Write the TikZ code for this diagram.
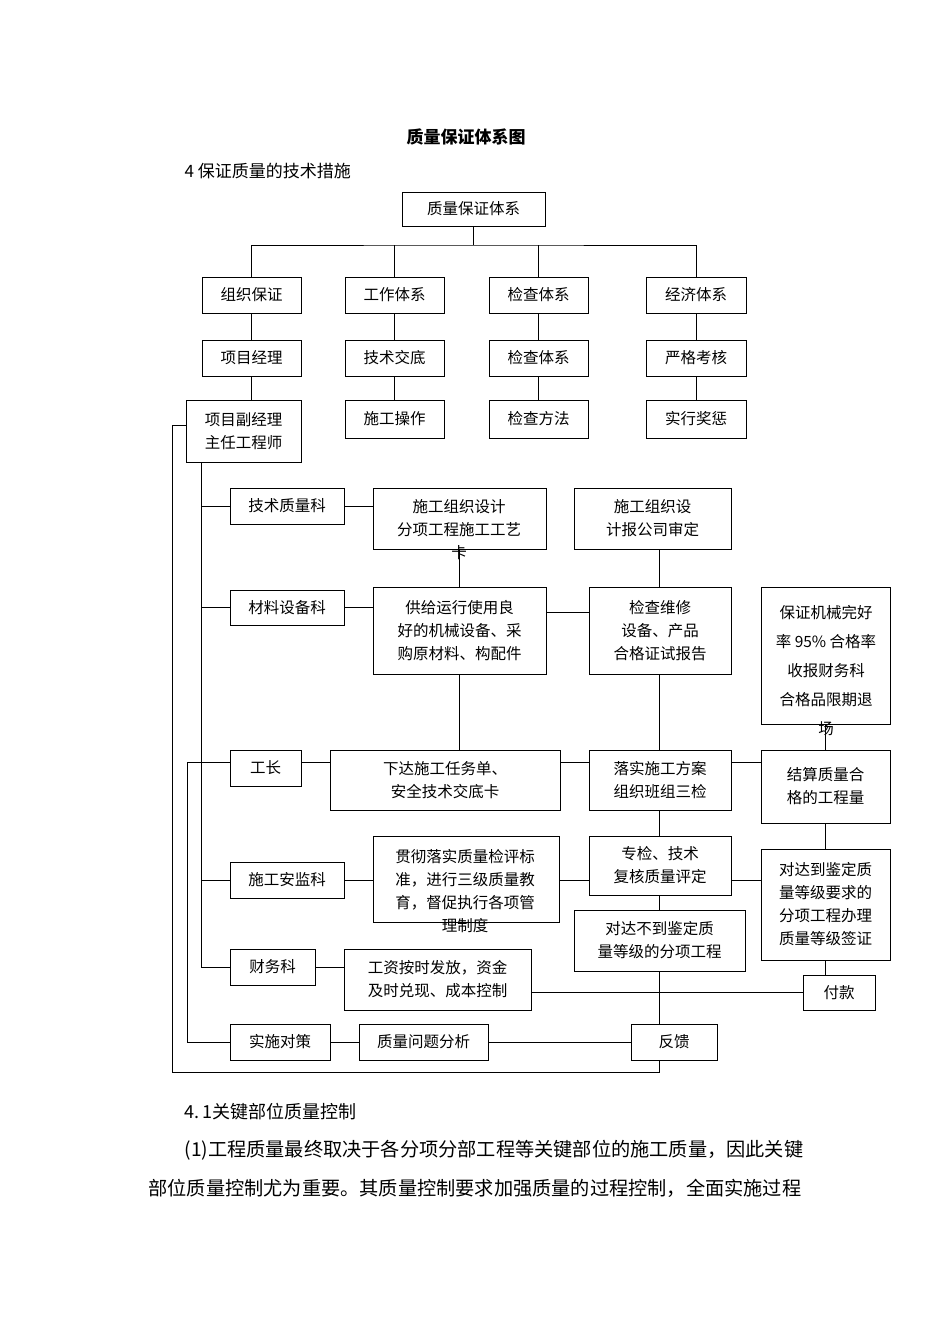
\documentclass[tikz,border=0pt]{standalone}
\usepackage{fontspec}
\setmainfont{Liberation Serif}
\newfontfamily\cjk{Noto Sans CJK SC}
\begin{document}
\begin{tikzpicture}[x=1pt,y=-1pt,
  box/.style={draw,line width=0.9pt,inner sep=0pt,align=center,font=\cjk\fontsize{15.5}{23}\selectfont},
  txt/.style={inner sep=0pt,align=center,font=\cjk\fontsize{15.5}{23}\selectfont},
  ln/.style={line width=0.9pt}]
\useasboundingbox (0,0) rectangle (950,1344);
\newcommand\bx[6]{\node[box,minimum width={(#4-#2)*1pt},minimum height={(#5-#3)*1pt}] (#1) at ({(#2+#4)/2},{(#3+#5)/2}) {#6};}
\node[font=\cjk\bfseries\fontsize{17}{20}\selectfont] (title) at (466,137) {质量保证体系图};
\node[anchor=west,font=\cjk\fontsize{17}{20}\selectfont] (h4) at (181,171) {4 保证质量的技术措施};
\bx{top}{402}{192}{545}{226}{质量保证体系}
\bx{a1}{202}{277}{301}{313}{组织保证}
\bx{b1}{345}{277}{444}{313}{工作体系}
\bx{c1}{489}{277}{588}{313}{检查体系}
\bx{d1}{646}{277}{746}{313}{经济体系}
\bx{a2}{202}{340}{301}{376}{项目经理}
\bx{b2}{345}{340}{444}{376}{技术交底}
\bx{c2}{489}{340}{588}{376}{检查体系}
\bx{d2}{646}{340}{746}{376}{严格考核}
\bx{a3}{186}{400}{301}{462}{项目副经理\\主任工程师}
\bx{b3}{345}{400}{444}{438}{施工操作}
\bx{c3}{489}{400}{588}{438}{检查方法}
\bx{d3}{646}{400}{746}{438}{实行奖惩}
\bx{jszl}{230}{488}{344}{524}{技术质量科}
\bx{sgzz}{373}{488}{546}{549}{}
\node[txt] (sgzzt) at (459,530) {施工组织设计\\分项工程施工工艺\\卡};
\bx{bgs}{574}{488}{731}{549}{施工组织设\\计报公司审定}
\bx{clsb}{230}{590}{344}{625}{材料设备科}
\bx{gj}{373}{587}{546}{674}{供给运行使用良\\好的机械设备、采\\购原材料、构配件}
\bx{jcwx}{589}{587}{731}{674}{检查维修\\设备、产品\\合格证试报告}
\bx{bzjx}{761}{587}{890}{724}{}
\node[txt,font=\cjk\fontsize{15.5}{29}\selectfont] (bzjxt) at (826,671) {保证机械完好\\率 95\% 合格率\\收报财务科\\合格品限期退\\场};
\bx{gz}{230}{750}{301}{786}{工长}
\bx{xd}{330}{750}{560}{810}{下达施工任务单、\\安全技术交底卡}
\bx{ls}{589}{750}{731}{810}{落实施工方案\\组织班组三检}
\bx{js}{761}{750}{890}{823}{结算质量合\\格的工程量}
\bx{sgaj}{230}{862}{344}{898}{施工安监科}
\bx{gc}{373}{836}{559}{922}{}
\node[txt] (gct) at (465,891) {贯彻落实质量检评标\\准，进行三级质量教\\育，督促执行各项管\\理制度};
\bx{zj}{589}{836}{731}{895}{专检、技术\\复核质量评定}
\bx{ddd}{761}{849}{890}{960}{对达到鉴定质\\量等级要求的\\分项工程办理\\质量等级签证}
\bx{dbd}{574}{910}{745}{971}{对达不到鉴定质\\量等级的分项工程}
\bx{cw}{230}{949}{315}{985}{财务科}
\bx{gzf}{344}{949}{531}{1010}{工资按时发放，资金\\及时兑现、成本控制}
\bx{fk}{803}{975}{875}{1010}{付款}
\bx{ss}{230}{1024}{330}{1060}{实施对策}
\bx{zlwt}{359}{1024}{488}{1060}{质量问题分析}
\bx{fkui}{631}{1024}{717}{1060}{反馈}
% top tree
\coordinate (bus) at (473.5,245);
\draw[ln] (top.south) -- (top.south |- bus);
\draw[ln] (a1.north) |- (bus) -| (d1.north);
\draw[ln] (b1.north) -- (b1.north |- bus);
\draw[ln] (c1.north) -- (c1.north |- bus);
\draw[ln] (a1) -- (a2); \draw[ln] (b1) -- (b2); \draw[ln] (c1) -- (c2); \draw[ln] (d1) -- (d2);
\draw[ln] (a2.south) -- (a2.south |- a3.north);
\draw[ln] (b2) -- (b3); \draw[ln] (c2) -- (c3); \draw[ln] (d2) -- (d3);
% spine
\coordinate (sp0) at (201,462);
\coordinate (sp1) at (201,967);
\draw[ln] (sp0) -- (sp1) -- (cw.west);
\draw[ln] (201,506) -- (jszl.west |- 201,506);
\draw[ln] (201,607) -- (clsb.west |- 201,607);
\draw[ln] (201,880) -- (sgaj.west |- 201,880);
% outer loop
\coordinate (o1) at (172,425);
\coordinate (o2) at (172,1072);
\draw[ln] (a3.west |- o1) -- (o1) -- (o2) -| (fkui.south -| dbd.south);
% 工长 - 实施对策 line
\draw[ln] (gz.west |- 0,762) -- (187,762) -- (187,1042) -- (ss.west |- 0,1042);
% rows
\draw[ln] (jszl.east |- 0,506) -- (sgzz.west |- 0,506);
\draw[ln] (clsb.east |- 0,607) -- (gj.west |- 0,607);
\draw[ln] (gj.north) -- (sgzz.south);
\draw[ln] (gj.east |- 0,612) -- (jcwx.west |- 0,612);
\draw[ln] (bgs.south -| 659,0) -- (jcwx.north -| 659,0);
\draw[ln] (jcwx.south -| 659,0) -- (ls.north -| 659,0);
\draw[ln] (gj.south -| 459,0) -- (xd.north -| 459,0);
\draw[ln] (gz.east |- 0,762) -- (xd.west |- 0,762);
\draw[ln] (xd.east |- 0,762) -- (ls.west |- 0,762);
\draw[ln] (ls.east |- 0,762) -- (js.west |- 0,762);
\draw[ln] (bzjx.south -| 825,0) -- (js.north -| 825,0);
\draw[ln] (ls.south -| 659,0) -- (zj.north -| 659,0);
\draw[ln] (zj.south -| 659,0) -- (dbd.north -| 659,0);
\draw[ln] (dbd.south -| 659,0) -- (fkui.north -| 659,0);
\draw[ln] (sgaj.east |- 0,880) -- (gc.west |- 0,880);
\draw[ln] (gc.east |- 0,880) -- (zj.west |- 0,880);
\draw[ln] (zj.east |- 0,880) -- (ddd.west |- 0,880);
\draw[ln] (js.south -| 825,0) -- (ddd.north -| 825,0);
\draw[ln] (ddd.south -| 825,0) -- (fk.north -| 825,0);
\draw[ln] (cw.east |- 0,967) -- (gzf.west |- 0,967);
\draw[ln] (gzf.east |- 0,992) -- (fk.west |- 0,992);
\draw[ln] (ss.east |- 0,1042) -- (zlwt.west |- 0,1042);
\draw[ln] (zlwt.east |- 0,1042) -- (fkui.west |- 0,1042);
% text below
\node[anchor=west,font=\cjk\fontsize{18}{20}\selectfont] (p0) at (181,1112) {4.\,1关键部位质量控制};
\node[anchor=west,font=\cjk\fontsize{19.2}{20}\selectfont] (p1) at (181,1150) {(1)工程质量最终取决于各分项分部工程等关键部位的施工质量，因此关键};
\node[anchor=west,font=\cjk\fontsize{19.2}{20}\selectfont] (p2) at (145,1188) {部位质量控制尤为重要。其质量控制要求加强质量的过程控制，全面实施过程};
\end{tikzpicture}
\end{document}
